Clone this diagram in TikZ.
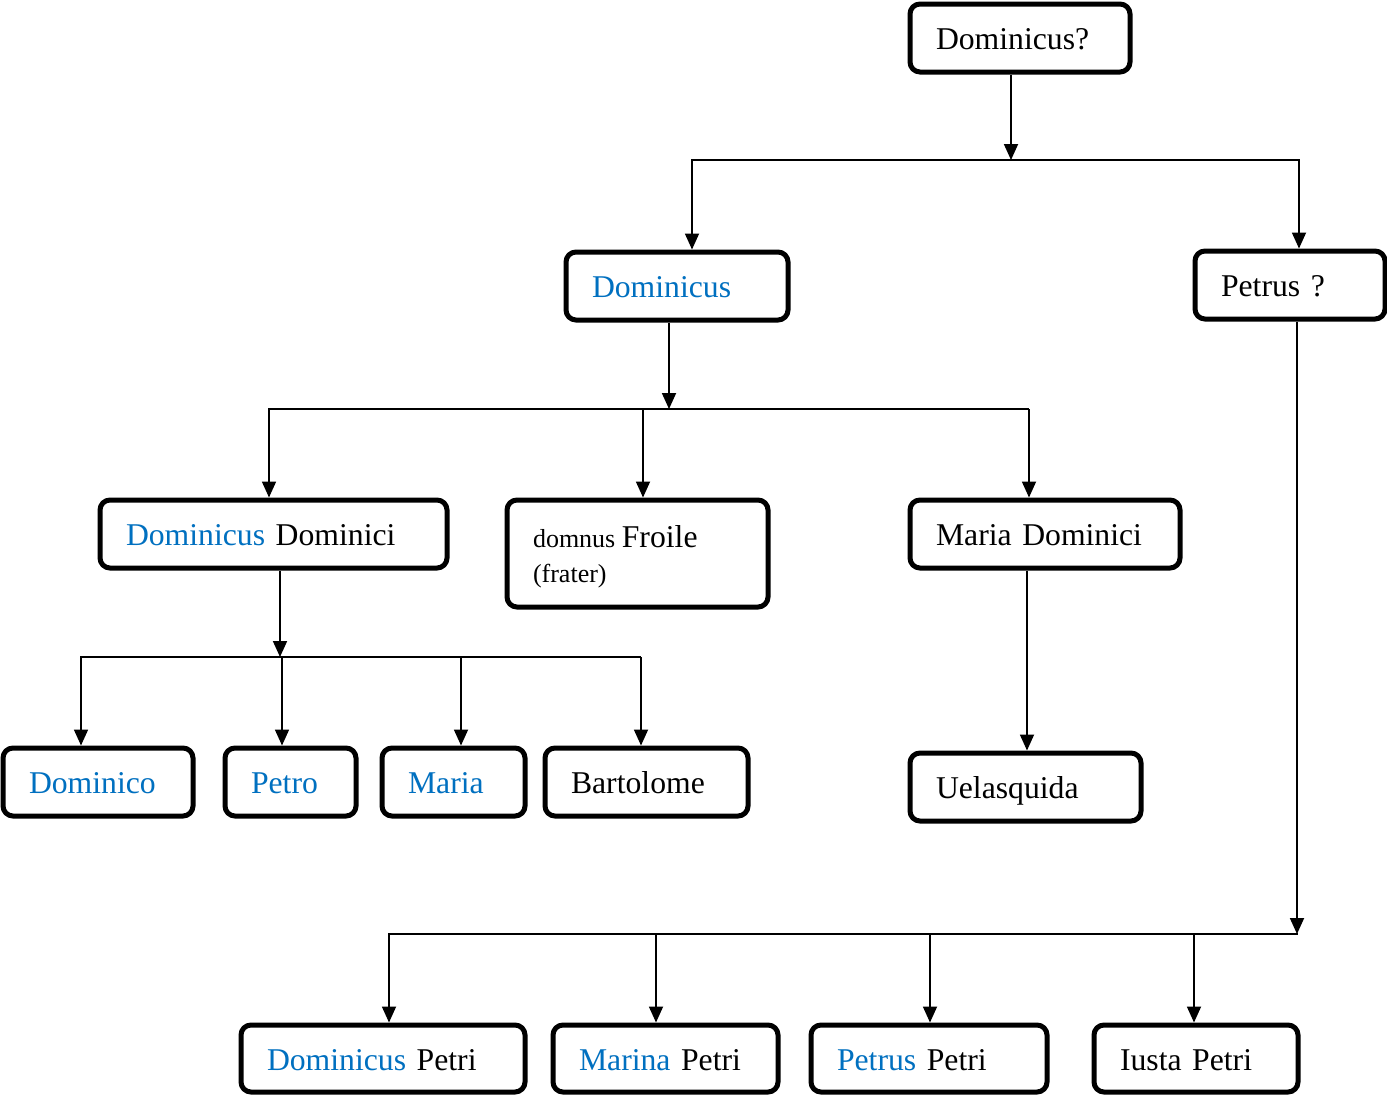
\documentclass[tikz,border=0pt]{standalone}
\usepackage{fontspec}
\setmainfont{Liberation Serif}
\usetikzlibrary{arrows.meta}
\definecolor{nameblue}{RGB}{0,112,192}
\newcommand\bl[1]{\textcolor{nameblue}{#1}}
\newcommand\famnode[6]{%
  \pgfmathsetmacro\cx{(#2+#4)/2}%
  \pgfmathsetmacro\cy{(#3+#5)/2}%
  \pgfmathsetmacro\tw{#4-#2-52}%
  \pgfmathsetmacro\hh{#5-#3}%
  \node[famb, text width=\tw pt, minimum height=\hh pt, text height=23pt, text depth=0pt] (#1) at (\cx,\cy) {#6};}
\begin{document}
\begin{tikzpicture}[x=1pt,y=-1pt,
  famb/.style={draw=black, line width=5pt, rounded corners=10pt, fill=white,
    inner xsep=26pt, inner ysep=0pt, align=left,
    font=\fontsize{31.7}{38}\selectfont},
  arr/.style={draw=black, line width=1.8pt, -{Triangle[length=16pt,width=14pt]}},
  busl/.style={draw=black, line width=1.6pt}]
\useasboundingbox (0,0) rectangle (1387,1098);
\fill[white] (0,0) rectangle (1387,1098);

\famnode{top}{910}{4}{1130}{72}{Dominicus?}
\famnode{dom}{566}{252}{788}{320}{\bl{Dominicus}}
\famnode{pet}{1195}{251}{1385}{319}{Petrus ?}
\famnode{dd}{100}{500}{447}{568}{\bl{Dominicus} Dominici}
\node[famb, inner xsep=0pt, minimum width=261pt, minimum height=107pt,
  font=\fontsize{26}{35}\selectfont] (fr) at ({(507+768)/2},{(500+607)/2})
  {\raisebox{0pt}[0pt][13pt]{\begin{tabular}[t]{@{}p{209pt}@{}}domnus {\fontsize{31.7}{35}\selectfont Froile}\\(frater)\end{tabular}}};
\famnode{md}{910}{500}{1180}{568}{Maria Dominici}
\famnode{dco}{3}{748}{193}{816}{\bl{Dominico}}
\famnode{pto}{225}{748}{356}{816}{\bl{Petro}}
\famnode{mar}{382}{748}{525}{816}{\bl{Maria}}
\famnode{bar}{545}{748}{748}{816}{Bartolome}
\famnode{uel}{910}{753}{1141}{821}{Uelasquida}
\famnode{dp}{241}{1025}{525}{1092}{\bl{Dominicus} Petri}
\famnode{mp}{553}{1025}{778}{1092}{\bl{Marina} Petri}
\famnode{pp}{811}{1025}{1047}{1092}{\bl{Petrus} Petri}
\famnode{ip}{1094}{1025}{1298}{1092}{Iusta Petri}

% level 1
\coordinate (b1a) at (692,160);
\coordinate (b1b) at (1299,160);
\coordinate (b1c) at (1011,160);
\draw[busl] (691,160) -- (1300,160);
\draw[arr] (top.south -| b1c) -- (b1c);
\draw[arr] (b1a) -- (b1a |- dom.north);
\draw[arr] (b1b) -- (b1b |- pet.north);

% level 2
\coordinate (b2a) at (269,409);
\coordinate (b2b) at (643,409);
\coordinate (b2c) at (1029,409);
\coordinate (b2s) at (669,409);
\draw[busl] (268,409) -- (1029,409);
\draw[arr] (dom.south -| b2s) -- (b2s);
\draw[arr] (b2a) -- (b2a |- dd.north);
\draw[arr] (b2b) -- (b2b |- fr.north);
\draw[arr] (b2c) -- (b2c |- md.north);

% level 3
\coordinate (b3a) at (81,657);
\coordinate (b3b) at (282,657);
\coordinate (b3c) at (461,657);
\coordinate (b3d) at (641,657);
\coordinate (b3s) at (280,657);
\draw[busl] (80,657) -- (641,657);
\draw[arr] (dd.south -| b3s) -- (b3s);
\draw[arr] (b3a) -- (b3a |- dco.north);
\draw[arr] (b3b) -- (b3b |- pto.north);
\draw[arr] (b3c) -- (b3c |- mar.north);
\draw[arr] (b3d) -- (b3d |- bar.north);

% level 4
\coordinate (c4) at (1027,700);
\draw[arr] (md.south -| c4) -- (c4 |- uel.north);

% level 5
\coordinate (b5a) at (389,934);
\coordinate (b5b) at (656,934);
\coordinate (b5c) at (930,934);
\coordinate (b5d) at (1194,934);
\coordinate (b5s) at (1297,934);
\draw[busl] (388,934) -- (1298,934);
\draw[arr] (pet.south -| b5s) -- (b5s);
\draw[arr] (b5a) -- (b5a |- dp.north);
\draw[arr] (b5b) -- (b5b |- mp.north);
\draw[arr] (b5c) -- (b5c |- pp.north);
\draw[arr] (b5d) -- (b5d |- ip.north);
\end{tikzpicture}
\end{document}
